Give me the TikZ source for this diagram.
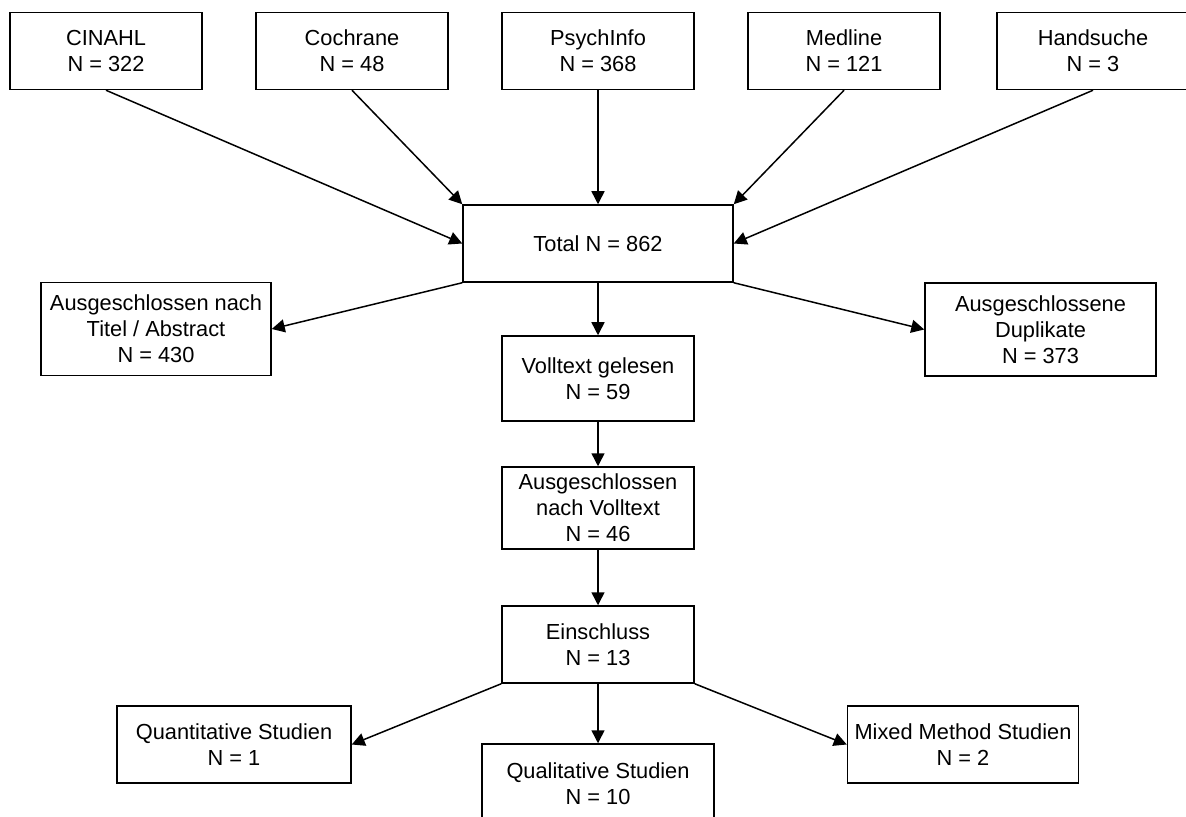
\documentclass[tikz,border=0pt]{standalone}
\usepackage{fontspec}
\setmainfont{Liberation Sans}
\usetikzlibrary{arrows.meta}
\begin{document}
\begin{tikzpicture}[x=0.5pt,y=-0.5pt,
  box/.style={draw, line width=0.75pt, align=center, inner sep=0pt,
    font=\fontsize{10.9}{13}\selectfont, minimum width=96pt, minimum height=38.5pt},
  conn/.style={line width=0.75pt, -{Triangle[length=6.5pt,width=6.5pt]}}]
\useasboundingbox (0,0) rectangle (1186,817);
\fill[white] (0,0) rectangle (1186,817);
\clip (0,0) rectangle (1186,817);
\node[box] (cinahl) at (106,51) {CINAHL\\N = 322};
\node[box] (cochrane) at (352,51) {Cochrane\\N = 48};
\node[box] (psych) at (598,51) {PsychInfo\\N = 368};
\node[box] (medline) at (844,51) {Medline\\N = 121};
\node[box] (hand) at (1093,51) {Handsuche\\N = 3};
\node[box, minimum width=135pt] (total) at (598,243.5) {Total N = 862};
\node[box, minimum width=115pt, minimum height=46.5pt] (titel) at (156,329) {Ausgeschlossen nach\\Titel / Abstract\\N = 430};
\node[box, minimum width=115.5pt, minimum height=46.5pt] (dup) at (1040.5,329.5) {Ausgeschlossene\\Duplikate\\N = 373};
\node[box, minimum height=42.5pt] (voll) at (598,378.5) {Volltext gelesen\\N = 59};
\node[box, minimum height=41pt] (vollex) at (598,508) {Ausgeschlossen\\nach Volltext\\N = 46};
\node[box] (ein) at (598,644.5) {Einschluss\\N = 13};
\node[box, minimum width=117pt] (quant) at (234,744.5) {Quantitative Studien\\N = 1};
\node[box, minimum width=116pt, minimum height=40pt] (qual) at (598,784) {Qualitative Studien\\N = 10};
\node[box, minimum width=115.5pt] (mixed) at (963,744.5) {Mixed Method Studien\\N = 2};
\draw[conn] (cinahl.south) -- (total.west);
\draw[conn] (cochrane.south) -- (total.north west);
\draw[conn] (psych.south) -- (total.north);
\draw[conn] (medline.south) -- (total.north east);
\draw[conn] (hand.south) -- (total.east);
\draw[conn] (total.south west) -- (titel.east);
\draw[conn] (total.south) -- (voll.north);
\draw[conn] (total.south east) -- (dup.west);
\draw[conn] (voll.south) -- (vollex.north);
\draw[conn] (vollex.south) -- (ein.north);
\draw[conn] (ein.south west) -- (quant.east);
\draw[conn] (ein.south) -- (qual.north);
\draw[conn] (ein.south east) -- (mixed.west);
\end{tikzpicture}
\end{document}
